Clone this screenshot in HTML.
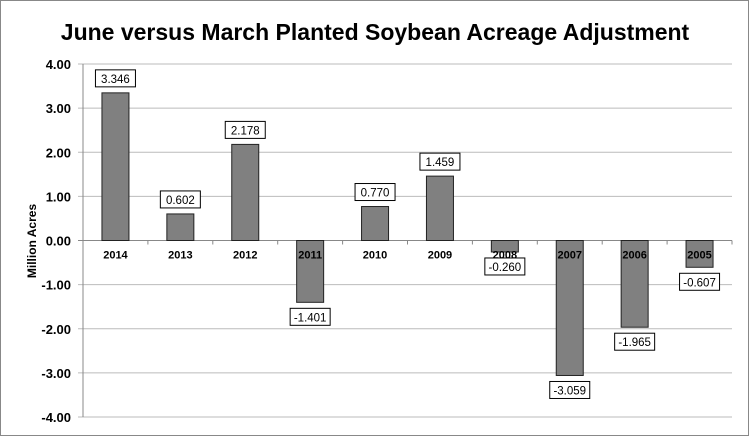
<!DOCTYPE html>
<html><head><meta charset="utf-8"><style>
body{margin:0;background:#fff}
svg{display:block;font-family:"Liberation Sans",sans-serif}
</style></head><body>
<svg id="chart" width="750" height="437">
<rect x="0.5" y="0.5" width="748" height="435" fill="#fff" stroke="#888"/>
<text x="375" y="40" text-anchor="middle" font-size="23" font-weight="bold" fill="#000">June versus March Planted Soybean Acreage Adjustment</text>
<text transform="translate(36,241) rotate(-90)" text-anchor="middle" font-size="12" font-weight="bold">Million Acres</text>
<g id="grid"></g><g id="bars"></g><g id="labels"></g>
</svg>
<script>
const categories=["2014","2013","2012","2011","2010","2009","2008","2007","2006","2005"];
const values=[3.346,0.602,2.178,-1.401,0.770,1.459,-0.260,-3.059,-1.965,-0.607];
const yTicks=[4,3,2,1,0,-1,-2,-3,-4];
const NS="http://www.w3.org/2000/svg";
const x0=83,x1=732,yTop=64,yBot=417,yMax=4,yMin=-4;
const band=(x1-x0)/categories.length;
const y=v=>yTop+(yMax-v)/(yMax-yMin)*(yBot-yTop);
const xc=i=>x0+band*(i+0.5);
function mk(tag,attrs,parent){const e=document.createElementNS(NS,tag);for(const k in attrs)e.setAttribute(k,attrs[k]);parent.appendChild(e);return e;}
const grid=document.getElementById('grid'),bars=document.getElementById('bars'),labels=document.getElementById('labels');
yTicks.forEach(t=>{
 const g=mk('line',{x1:x0-5,x2:x1,y1:y(t),y2:y(t),stroke:t===0?'#888':'#bbb','stroke-width':1},grid);
 
 
 const tx=mk('text',{x:x0-12,y:y(t)+5,'text-anchor':'end','font-size':13,'font-weight':'bold'},grid);
 tx.textContent=t.toFixed(2);
 
 
});
const ax=mk('line',{x1:x0,x2:x0,y1:yTop,y2:yBot,stroke:'#888'},grid);


categories.forEach((c,i)=>{
 const v=values[i],bw=27,top=Math.min(y(v),y(0)),h=Math.abs(y(v)-y(0));
 const r=mk('rect',{x:xc(i)-bw/2,y:top,width:bw,height:h,fill:'#808080',stroke:'#222','stroke-width':1},bars);
 
 
 const tk=mk('line',{x1:x0+band*(i+1),x2:x0+band*(i+1),y1:y(0),y2:y(0)+4,stroke:'#888'},grid);
 
 
 const ct=mk('text',{x:xc(i),y:y(0)+18,'text-anchor':'middle','font-size':11,'font-weight':'bold'},labels);
 ct.textContent=c;
 
 
 const by=v>=0?y(v)-23:y(v)+6;
 const b=mk('rect',{x:xc(i)-20,y:by,width:40,height:17,fill:'#fff',stroke:'#000'},labels);
 
 
 const vt=mk('text',{x:xc(i),y:by+13,'text-anchor':'middle','font-size':11.5},labels);
 vt.textContent=v.toFixed(3);
 
 
});
</script>
</body></html>
